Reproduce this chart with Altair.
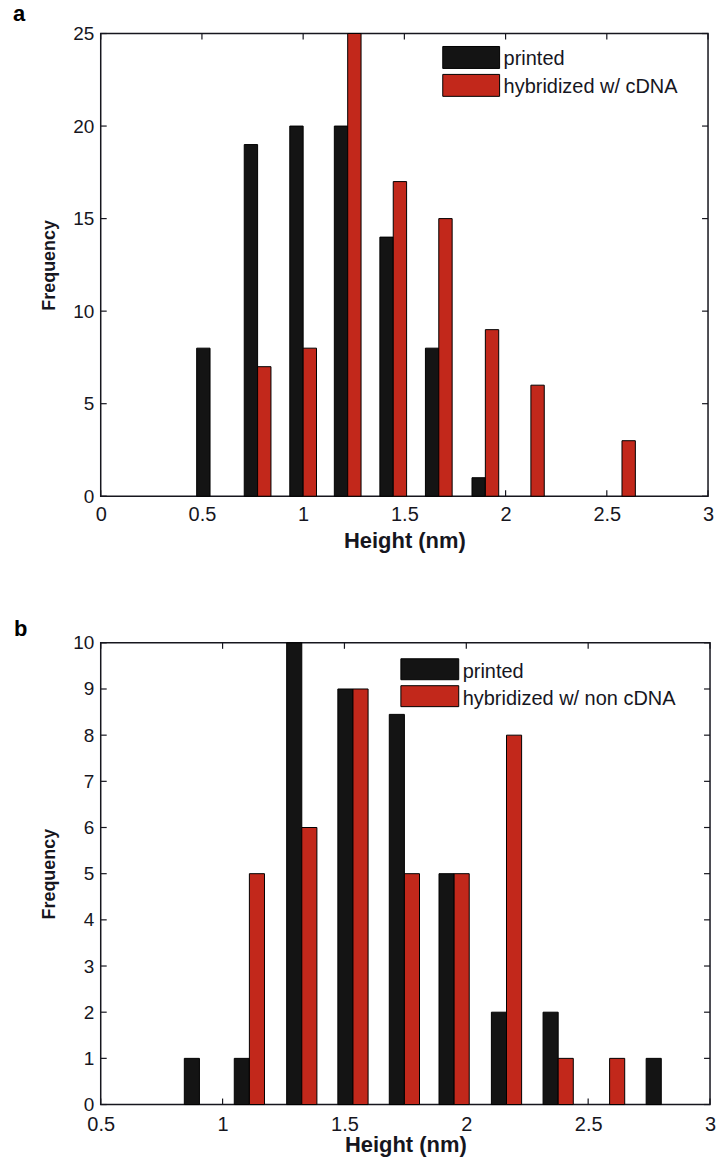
import altair as alt
import pandas as pd

FONT = "Liberation Sans, Arial, Helvetica, sans-serif"
INK = "#16161e"
BLACK = "#141414"
RED = "#c2281b"

# ---------------- panel a ----------------
a_height = [0.54, 0.775, 1.0, 1.22, 1.445, 1.67, 1.9, 2.125, 2.35, 2.575]
a_printed = [8, 19, 20, 20, 14, 8, 1, 0, 0, 0]
a_hybrid = [0, 7, 8, 25, 17, 15, 9, 6, 0, 3]
a_series = ["printed", "hybridized w/ cDNA"]
a_xticks = [0, 0.5, 1, 1.5, 2, 2.5, 3]
a_yticks = [0, 5, 10, 15, 20, 25]

# ---------------- panel b ----------------
b_height = [0.905, 1.11, 1.325, 1.535, 1.746, 1.95, 2.165, 2.377, 2.588, 2.80]
b_printed = [1, 1, 10, 9, 8.45, 5, 2, 2, 0, 1]
b_hybrid = [0, 5, 6, 9, 5, 5, 8, 1, 1, 0]
b_series = ["printed", "hybridized w/ non cDNA"]
b_xticks = [0.5, 1, 1.5, 2, 2.5, 3]
b_yticks = [0, 1, 2, 3, 4, 5, 6, 7, 8, 9, 10]


def panel(heights, printed, hybrid, series, xdom, xticks, ydom, yticks,
          bw, W, H, letter, letter_x, letter_y, leg, x_label_pad, x_title_pad):
    rows = []
    for c, p, h in zip(heights, printed, hybrid):
        rows.append({"center": c, "freq": p, "series": series[0], "side": -1})
        rows.append({"center": c, "freq": h, "series": series[1], "side": 0})
    df = pd.DataFrame(rows)

    xs = alt.Scale(domain=xdom, nice=False, zero=False)
    ys = alt.Scale(domain=ydom, nice=False, zero=False)

    xaxis = alt.Axis(values=xticks, title="Height (nm)", ticks=False, domain=False,
                     grid=False, format=".2~f", labelFont=FONT, labelFontSize=20,
                     labelColor=INK, labelPadding=x_label_pad, labelOverlap=False,
                     labelFlush=False, titleFont=FONT, titleFontSize=22,
                     titleFontWeight="bold", titleColor=INK, titlePadding=x_title_pad)
    yaxis = alt.Axis(values=yticks, title="Frequency", ticks=False, domain=False,
                     grid=False, format=".2~f", labelFont=FONT, labelFontSize=19,
                     labelColor=INK, labelPadding=7, labelOverlap=False,
                     labelFlush=False, titleFont=FONT, titleFontSize=18,
                     titleFontWeight="bold", titleColor=INK, titlePadding=14)

    bars = alt.Chart(df).transform_filter("datum.freq > 0").transform_calculate(
        x0=f"datum.center + datum.side*{bw}",
        x1=f"datum.center + (datum.side+1)*{bw}",
    ).mark_rect(stroke="#000000", strokeWidth=1).encode(
        x=alt.X("x0:Q", scale=xs, axis=xaxis, title="Height (nm)"),
        x2="x1:Q",
        y=alt.Y("freq:Q", scale=ys, axis=yaxis, title="Frequency"),
        y2=alt.datum(0),
        fill=alt.Fill("series:N", scale=alt.Scale(domain=series, range=[BLACK, RED]),
                      legend=None),
    )

    xt = pd.DataFrame({"v": xticks})
    yt = pd.DataFrame({"v": yticks})
    tl = 6
    tick_top = alt.Chart(xt).mark_rule(color=INK, strokeWidth=1.2).encode(
        x=alt.X("v:Q", scale=xs, axis=xaxis, title="Height (nm)"),
        y=alt.value(0), y2=alt.value(tl))
    tick_bot = alt.Chart(xt).mark_rule(color=INK, strokeWidth=1.2).encode(
        x=alt.X("v:Q", scale=xs, axis=xaxis, title="Height (nm)"),
        y=alt.value(H), y2=alt.value(H - tl))
    tick_left = alt.Chart(yt).mark_rule(color=INK, strokeWidth=1.2).encode(
        y=alt.Y("v:Q", scale=ys, axis=yaxis, title="Frequency"),
        x=alt.value(0), x2=alt.value(tl))
    tick_right = alt.Chart(yt).mark_rule(color=INK, strokeWidth=1.2).encode(
        y=alt.Y("v:Q", scale=ys, axis=yaxis, title="Frequency"),
        x=alt.value(W), x2=alt.value(W - tl))

    one = pd.DataFrame({"t": [letter]})
    letter_mark = alt.Chart(one).mark_text(
        align="left", baseline="alphabetic", font=FONT, fontSize=22,
        fontWeight="bold", color="#000000").encode(
        x=alt.value(letter_x), y=alt.value(letter_y), text="t:N")

    # legend (inside the axes, upper right)
    lx0, lx1, rows_y, sh, tx, base_off = leg
    legend_layers = []
    for name, col, y0 in zip(series, [BLACK, RED], rows_y):
        d = pd.DataFrame({"t": [name]})
        legend_layers.append(alt.Chart(d).mark_rect(
            fill=col, stroke="#000000", strokeWidth=1).encode(
            x=alt.value(lx0), x2=alt.value(lx1), y=alt.value(y0), y2=alt.value(y0 + sh)))
        legend_layers.append(alt.Chart(d).mark_text(
            align="left", baseline="alphabetic", font=FONT, fontSize=20,
            color=INK).encode(x=alt.value(tx), y=alt.value(y0 + base_off), text="t:N"))

    return alt.layer(tick_top, tick_bot, tick_left, tick_right, bars,
                     letter_mark, *legend_layers).properties(width=W, height=H)


chart_a = panel(a_height, a_printed, a_hybrid, a_series, [0, 3], a_xticks,
                [0, 25], a_yticks, 0.066, 609, 464, "a", -88, -13,
                (343, 400, [13, 41], 22, 404, 19), 8, 6)
chart_b = panel(b_height, b_printed, b_hybrid, b_series, [0.5, 3], b_xticks,
                [0, 10], b_yticks, 0.062, 611, 463, "b", -87, -7,
                (301, 359, [16, 43], 21, 363, 19), 10, 0)

chart = alt.concat(chart_a, chart_b, columns=1, align="none", spacing=65).properties(
    padding={"left": 12, "top": 0, "right": 0, "bottom": 0},
    background="white",
).resolve_scale(fill="independent").configure_view(stroke=INK, strokeWidth=1.5)

chart.save("out.html", embed_options={"renderer": "svg", "actions": False})
